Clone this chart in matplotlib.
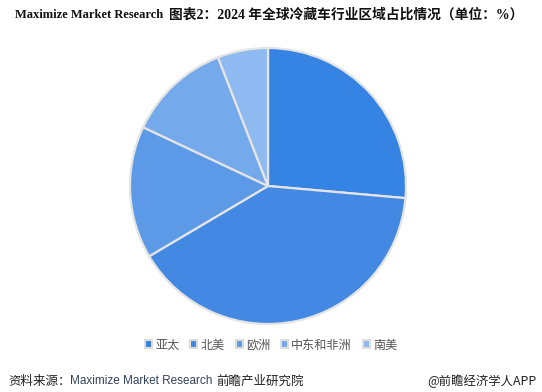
import matplotlib.pyplot as plt
from matplotlib.patches import Rectangle

regions = ['亚太', '北美', '欧洲', '中东和非洲', '南美']
shares = [26.4, 40.1, 15.5, 12.1, 5.9]
colors = ['#3584e4', '#4389e3', '#5c9ae8', '#74a9ec', '#8fb9f1']

plt.rcParams['font.family'] = ['Noto Sans CJK SC', 'DejaVu Sans']

fig = plt.figure(figsize=(5.42, 3.92), dpi=100)
W, H = 542, 392
cx, cy, r = 268, 186, 138
box = 141
ax = fig.add_axes([(cx - box) / W, (H - cy - box) / H, 2 * box / W, 2 * box / H])
ax.pie(shares, colors=colors, startangle=90, counterclock=False, radius=r / box,
       wedgeprops=dict(edgecolor='#e4e4e4', linewidth=1.6))
ax.set_xlim(-1, 1)
ax.set_ylim(-1, 1)
ax.set_aspect('equal')
ax.axis('off')

handles = [Rectangle((0, 0), 1, 1, facecolor=c, edgecolor='#dddddd', linewidth=1.5) for c in colors]
fig.legend(handles, regions, loc='center', bbox_to_anchor=(0.5, 1 - 345 / H), ncol=5,
           frameon=False, fontsize=8.7, handlelength=0.6, handleheight=0.6,
           handletextpad=0.25, columnspacing=0.9, labelcolor='#555555')

renderer = fig.canvas.get_renderer()


def put_parts(x, y, parts):
    # parts: (text, kwargs) drawn one after another on a line
    for s, kw in parts:
        t = fig.text(x / W, 1 - y / H, s, va='center', ha='left', **kw)
        x = t.get_window_extent(renderer).x1


title_font = ['Liberation Serif', 'Noto Sans CJK SC']
put_parts(15, 15, [
    ('Maximize Market Research  ', dict(family=title_font, fontweight='bold', fontsize=9, color='#111111')),
    ('图表2：2024 年全球冷藏车行业区域占比情况（单位：%）',
     dict(family=title_font, fontweight='bold', fontsize=9.9, color='#111111')),
])

put_parts(8, 381, [
    ('资料来源：', dict(fontsize=9, color='#222222')),
    ('Maximize Market Research ', dict(fontsize=8.5, color='#34435a',
                                        family=['Liberation Sans', 'Noto Sans CJK SC'])),
    ('前瞻产业研究院', dict(fontsize=9, color='#222222')),
])
fig.text(536 / W, 1 - 381 / H, '@前瞻经济学人APP', fontsize=8.9, va='center', ha='right', color='#222222')

fig.savefig('out.png', dpi=100)
